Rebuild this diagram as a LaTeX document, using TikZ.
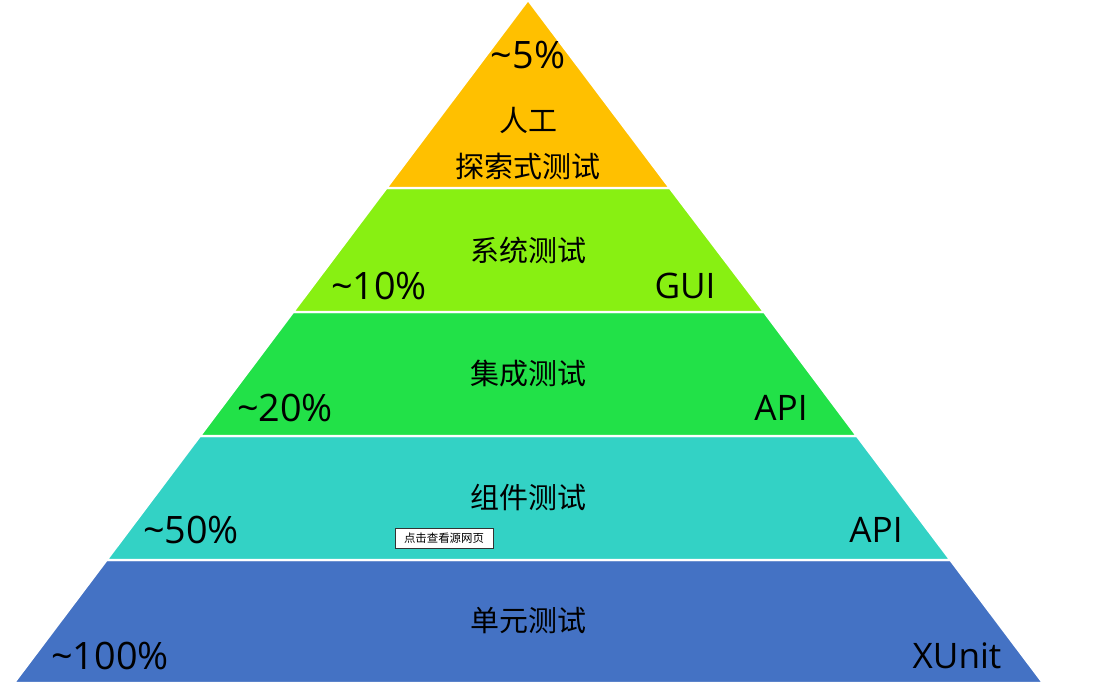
\documentclass[tikz,border=0pt]{standalone}
\usepackage{fontspec}
\setmainfont{Open Sans}
\newfontfamily\cjk{Noto Sans CJK SC}
\usetikzlibrary{positioning}

\definecolor{layerA}{HTML}{FFC000}
\definecolor{layerB}{HTML}{88F012}
\definecolor{layerC}{HTML}{22E148}
\definecolor{layerD}{HTML}{33D2C5}
\definecolor{layerE}{HTML}{4472C4}

\begin{document}
\begin{tikzpicture}[
    x=0.02cm, y=-0.02cm,
    layer/.style={draw=white, line width=1.2pt},
    title/.style={font=\cjk\fontsize{16.5}{18}\selectfont, inner sep=0pt},
    share/.style={font=\fontsize{21.5}{23}\selectfont, inner sep=0pt},
    tool/.style={font=\fontsize{20}{22}\selectfont, inner sep=0pt},
    popup/.style={draw=black!80, fill=white, line width=0.5pt, font=\cjk\fontsize{6.5}{7}\selectfont,
        minimum width=98*0.02cm, minimum height=20*0.02cm, inner sep=0pt}
]
\useasboundingbox (0,0) rectangle (1097,690);

% pyramid corners, boundaries at y = 188, 312, 436, 560
\coordinate (apex) at (528,0);
\coordinate (l1) at (386.5,188);  \coordinate (r1) at (669.7,188);
\coordinate (l2) at (293.2,312);  \coordinate (r2) at (764,312);
\coordinate (l3) at (200.0,436);  \coordinate (r3) at (856.8,436);
\coordinate (l4) at (106.7,560);  \coordinate (r4) at (950.3,560);
\coordinate (l5) at (14,683);     \coordinate (r5) at (1043,683);

\filldraw[layer, fill=layerE] (l4) -- (r4) -- (r5) -- (l5) -- cycle;
\filldraw[layer, fill=layerD] (l3) -- (r3) -- (r4) -- (l4) -- cycle;
\filldraw[layer, fill=layerC] (l2) -- (r2) -- (r3) -- (l3) -- cycle;
\filldraw[layer, fill=layerB] (l1) -- (r1) -- (r2) -- (l2) -- cycle;
\filldraw[layer, fill=layerA] (apex) -- (r1) -- (l1) -- cycle;

% top
\node[share] (pct5) at (528,55) {\textasciitilde5\%};
\node[title] (manual) at (528,120) {人工};
\node[title] (explore) at (528,166) {探索式测试};

% system
\node[title] (system) at (528,250) {系统测试};
\node[share] (pct10) at (379,286) {\textasciitilde10\%};
\node[tool] (gui) at (685,286) {GUI};

% integration
\node[title] (integ) at (528,374) {集成测试};
\node[share] (pct20) at (285,408) {\textasciitilde20\%};
\node[tool] (api1) at (781,408) {API};

% component
\node[title] (comp) at (528,497) {组件测试};
\node[share] (pct50) at (191,530) {\textasciitilde50\%};
\node[tool] (api2) at (876,530) {API};
\node[popup] (src) at (444,538) {点击查看源网页};

% unit
\node[title] (unit) at (528,621) {单元测试};
\node[share] (pct100) at (110,656) {\textasciitilde100\%};
\node[tool] (xunit) at (957,656) {XUnit};
\end{tikzpicture}
\end{document}
